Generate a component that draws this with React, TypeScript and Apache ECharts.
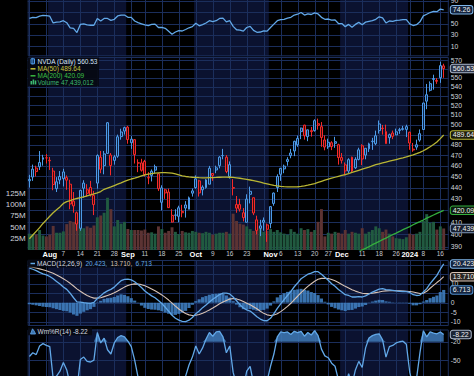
import React, { useEffect, useRef } from 'react';
import * as echarts from 'echarts';

// ---------------- DATA ----------------
const dates = [
  '2023-07-24','2023-07-25','2023-07-26','2023-07-27','2023-07-28','2023-07-31',
  '2023-08-01','2023-08-02','2023-08-03','2023-08-04','2023-08-07','2023-08-08','2023-08-09','2023-08-10','2023-08-11','2023-08-14','2023-08-15','2023-08-16','2023-08-17','2023-08-18','2023-08-21','2023-08-22','2023-08-23','2023-08-24','2023-08-25','2023-08-28','2023-08-29','2023-08-30','2023-08-31',
  '2023-09-01','2023-09-05','2023-09-06','2023-09-07','2023-09-08','2023-09-11','2023-09-12','2023-09-13','2023-09-14','2023-09-15','2023-09-18','2023-09-19','2023-09-20','2023-09-21','2023-09-22','2023-09-25','2023-09-26','2023-09-27','2023-09-28','2023-09-29',
  '2023-10-02','2023-10-03','2023-10-04','2023-10-05','2023-10-06','2023-10-09','2023-10-10','2023-10-11','2023-10-12','2023-10-13','2023-10-16','2023-10-17','2023-10-18','2023-10-19','2023-10-20','2023-10-23','2023-10-24','2023-10-25','2023-10-26','2023-10-27','2023-10-30','2023-10-31',
  '2023-11-01','2023-11-02','2023-11-03','2023-11-06','2023-11-07','2023-11-08','2023-11-09','2023-11-10','2023-11-13','2023-11-14','2023-11-15','2023-11-16','2023-11-17','2023-11-20','2023-11-21','2023-11-22','2023-11-24','2023-11-27','2023-11-28','2023-11-29','2023-11-30',
  '2023-12-01','2023-12-04','2023-12-05','2023-12-06','2023-12-07','2023-12-08','2023-12-11','2023-12-12','2023-12-13','2023-12-14','2023-12-15','2023-12-18','2023-12-19','2023-12-20','2023-12-21','2023-12-22','2023-12-26','2023-12-27','2023-12-28','2023-12-29',
  '2024-01-02','2024-01-03','2024-01-04','2024-01-05','2024-01-08','2024-01-09','2024-01-10','2024-01-11','2024-01-12','2024-01-16','2024-01-17',
];

const priorClose = 443.09;

const opens = [
  447.3, 449.5, 457.8, 463.0, 466.0, 467.4,
  464.6, 455.0, 439.0, 450.0, 448.0, 449.0, 443.0, 428.0, 418.0, 405.0, 444.0, 438.0, 440.0, 425.0, 444.0, 468.0, 460.0, 502.0, 470.0, 465.0, 469.0, 488.0, 497.0,
  497.5, 482.0, 485.0, 462.7, 462.6, 464.0, 449.0, 451.0, 459.0, 452.5, 427.0, 438.0, 436.0, 415.8, 415.9, 415.0, 418.0, 422.0, 421.0, 437.0,
  440.0, 446.0, 438.0, 440.0, 443.0, 451.0, 456.0, 460.0, 469.6, 468.0, 450.0, 440.0, 425.0, 425.0, 418.0, 410.0, 434.0, 431.0, 412.0, 407.0, 410.0, 404.2,
  409.0, 426.0, 440.0, 452.0, 457.0, 464.0, 472.0, 474.0, 480.0, 493.0, 499.5, 488.0, 494.0, 494.0, 501.0, 498.0, 484.7, 478.0, 482.0, 483.0, 480.0,
  465.0, 460.8, 455.0, 468.0, 458.0, 465.9, 479.0, 470.0, 476.0, 483.0, 481.0, 494.0, 496.5, 493.0, 487.0, 491.6, 489.7, 495.0, 496.0, 498.0,
  492.4, 474.9, 477.7, 484.6, 495.1, 524.5, 536.2, 549.2, 546.2, 550.1, 563.5,
];

const highs = [
  451.5, 461.0, 460.0, 473.9, 470.3, 471.0,
  468.2, 458.0, 449.4, 455.0, 457.1, 451.0, 447.0, 436.0, 419.0, 437.9, 446.6, 443.0, 446.0, 437.0, 470.7, 474.0, 474.0, 502.66, 472.0, 470.0, 490.0, 495.9, 498.0,
  498.8, 488.5, 485.5, 466.0, 466.5, 465.5, 454.0, 456.5, 461.0, 453.0, 442.0, 439.0, 439.0, 421.0, 421.0, 424.0, 424.8, 428.0, 432.0, 439.1,
  451.0, 447.0, 442.0, 447.6, 459.8, 453.0, 460.0, 469.0, 476.0, 470.0, 464.0, 447.6, 432.5, 430.0, 422.0, 434.0, 440.8, 431.0, 415.5, 412.0, 414.0, 408.9,
  423.5, 435.6, 452.0, 458.0, 461.0, 468.0, 476.0, 484.0, 489.0, 497.0, 500.0, 495.0, 497.7, 505.5, 506.2, 502.7, 489.2, 486.0, 483.5, 487.8, 481.0,
  472.0, 463.0, 467.0, 468.5, 468.0, 477.1, 480.5, 476.6, 482.0, 486.8, 494.0, 504.3, 499.7, 500.0, 491.0, 494.0, 496.0, 496.8, 498.8, 499.97,
  492.9, 481.8, 485.0, 495.2, 522.75, 543.2, 546.0, 553.5, 549.7, 568.3, 566.0,
];

const lows = [
  440.0, 446.0, 450.0, 456.0, 460.0, 462.0,
  456.0, 437.6, 436.0, 443.0, 441.0, 438.0, 421.0, 418.0, 403.0, 403.0, 431.0, 432.0, 432.0, 416.0, 439.0, 453.0, 452.0, 471.4, 451.0, 461.0, 467.5, 485.0, 490.0,
  481.0, 476.0, 462.0, 454.0, 454.5, 450.0, 443.0, 445.5, 453.0, 437.0, 420.0, 430.0, 422.0, 409.8, 412.0, 410.0, 414.2, 413.9, 421.0, 432.0,
  439.0, 432.0, 433.0, 439.0, 443.0, 446.0, 453.0, 457.5, 466.0, 453.0, 448.0, 433.0, 418.0, 419.0, 410.7, 409.8, 426.0, 416.0, 400.0, 398.6, 403.0, 394.0,
  405.0, 424.0, 436.0, 446.0, 453.0, 460.0, 467.0, 469.0, 478.0, 485.5, 485.0, 483.5, 488.0, 493.0, 495.0, 478.0, 474.6, 476.0, 474.8, 477.0, 461.0,
  462.0, 451.0, 453.0, 454.0, 457.0, 465.0, 460.5, 466.0, 473.0, 475.0, 479.6, 491.0, 490.0, 481.0, 481.0, 485.5, 489.6, 490.8, 494.1, 487.5,
  475.1, 473.2, 475.1, 483.0, 494.8, 516.0, 534.9, 536.9, 543.3, 544.4, 550.0,
];

const closes = [
  446.12, 456.79, 454.52, 459.0, 467.5, 467.29,
  465.07, 442.69, 445.15, 446.8, 454.17, 446.64, 425.54, 423.88, 408.55, 437.53, 439.4, 434.86, 433.44, 432.99, 469.67, 456.68, 471.16, 471.63, 460.18, 468.35, 487.84, 492.64, 493.55,
  485.09, 485.48, 470.61, 462.41, 455.72, 451.78, 448.7, 454.85, 455.81, 439.0, 439.66, 435.2, 422.39, 410.17, 416.1, 422.22, 419.11, 424.68, 430.89, 434.99,
  447.82, 435.17, 440.41, 446.88, 457.62, 452.73, 457.98, 468.06, 469.45, 454.61, 460.95, 439.38, 421.96, 421.01, 413.87, 429.75, 436.63, 417.79, 403.26, 405.0, 411.61, 407.8,
  423.25, 435.06, 450.05, 457.51, 459.55, 465.74, 469.5, 483.35, 486.2, 496.56, 488.88, 494.8, 492.98, 504.09, 499.44, 487.16, 477.76, 482.42, 478.21, 481.4, 467.7,
  467.65, 455.1, 465.66, 455.03, 465.96, 475.06, 466.27, 476.57, 480.88, 483.5, 488.9, 500.77, 496.04, 481.11, 489.9, 488.3, 492.79, 494.17, 495.22, 495.22,
  481.68, 475.69, 479.98, 490.97, 522.53, 531.4, 543.5, 548.22, 547.1, 563.82, 560.53,
];

// volume in millions of shares
const volumesM = [
  36, 35, 34, 44, 32, 30,
  34, 53, 38, 38, 41, 57, 64, 62, 66, 68, 48, 52, 49, 54, 72, 76, 82, 115, 90, 52, 66, 58, 62,
  46, 44, 44, 44, 43, 45, 38, 39, 36, 52, 46, 38, 42, 50, 40, 35, 42, 39, 38, 42,
  40, 38, 37, 40, 38, 34, 36, 38, 38, 40, 36, 80, 64, 58, 56, 52, 46, 42, 52, 48, 40, 42,
  46, 40, 44, 39, 36, 34, 46, 40, 36, 48, 44, 46, 40, 44, 62, 90, 30, 38, 36, 40, 38,
  36, 44, 36, 40, 38, 36, 48, 36, 40, 44, 52, 48, 40, 45, 36, 30, 26, 25, 24, 28,
  36, 34, 36, 40, 64, 79, 60, 62, 45, 52, 47.439012,
];

const ma50 = [
  396.5, 399.5, 402.5, 405.5, 409.0, 412.0,
  415.0, 418.0, 420.5, 423.0, 426.0, 427.5, 428.5, 429.5, 430.3, 431.0, 431.8, 432.6, 433.4, 434.3, 435.3, 436.4, 438.4, 439.5, 440.6, 441.8, 443.0, 444.2, 445.6,
  446.7, 447.7, 448.5, 449.4, 450.6, 451.5, 452.1, 452.6, 453.0, 453.3, 453.5, 453.6, 453.4, 453.0, 452.3, 451.5, 450.6, 450.0, 449.6, 449.3,
  449.1, 448.9, 448.8, 448.8, 448.9, 449.0, 449.1, 449.3, 449.4, 449.4, 449.3, 449.1, 448.8, 448.4, 447.9, 447.4, 446.8, 446.2, 445.5, 444.8, 444.0, 443.3,
  442.6, 442.0, 441.5, 441.1, 440.8, 440.6, 440.5, 440.5, 440.7, 441.0, 441.5, 442.1, 442.8, 443.6, 444.6, 445.6, 446.6, 447.5, 448.4, 449.3, 450.2,
  451.0, 451.8, 452.7, 453.7, 454.7, 455.7, 456.7, 457.7, 458.7, 459.8, 460.9, 461.8, 462.6, 463.4, 464.2, 465.0, 465.8, 466.6, 467.4, 468.3,
  469.3, 470.3, 471.4, 472.6, 474.2, 476.0, 478.0, 480.3, 482.7, 486.0, 489.64,
];

// MA(200) only enters the price panel from early December
const ma200FirstIndex = 92;
const ma200Visible = [
  379.6, 380.8, 382.3, 383.5, 384.8, 386.3, 387.6, 388.8, 390.2, 391.7, 393.0, 394.3, 395.8, 397.0, 398.5, 399.8,
  401.0, 402.4, 403.9, 405.1, 406.4, 407.9, 409.3, 410.5, 411.9, 413.4, 414.7, 416.1, 417.5, 418.7, 420.09,
];

const rsi14 = [
  59, 61, 60.5, 63, 64.5, 64,
  63, 51, 52.5, 53, 55, 51.5, 42.5, 41.5, 34, 48.5, 49.5, 47.5, 47, 47, 59, 54.5, 59, 59, 55.5, 57.5, 63.5, 65, 65,
  61, 61, 54.5, 51.5, 49.5, 47.5, 46.5, 48.5, 49, 43, 43.3, 41.5, 36.5, 31, 35, 37.5, 36.8, 39.5, 42.5, 44.5,
  50.5, 46, 48, 51, 55, 53.5, 55, 59, 59.5, 53, 55, 45, 39, 38.5, 36.5, 43, 45, 38, 34.5, 35, 37, 36.5,
  43, 49, 55, 57, 57.5, 59.5, 61, 65, 66.5, 69.5, 65, 67, 66, 69, 67, 61, 57.5, 58, 56, 56.5, 50,
  50, 44.5, 48.5, 43.5, 48.5, 52, 48, 52.5, 54, 55, 57.5, 62, 60, 51, 54.5, 54, 55.5, 56, 56.8, 57,
  49.5, 46.5, 48, 53, 63.5, 66.5, 69.5, 71.5, 71, 75.5, 74.26,
];

const macdLine = [
  18.2, 17.6, 16.9, 16.0, 15.2, 14.6,
  13.8, 12.6, 11.2, 9.8, 8.3, 7.0, 5.0, 2.6, 0.4, 0.3, 0.0, -0.2, -0.4, 0.2, 2.2, 3.6, 5.2, 6.2, 7.0, 8.2, 10.0, 11.6, 12.3,
  12.4, 12.0, 11.0, 9.6, 8.0, 6.2, 4.8, 3.6, 2.6, 1.2, -0.4, -2.4, -4.4, -6.6, -8.2, -9.2, -9.8, -10.0, -9.2, -7.8,
  -5.8, -4.4, -2.6, -1.2, 0.4, 1.8, 3.0, 4.3, 5.0, 5.0, 4.6, 3.0, 1.0, -1.0, -2.8, -3.8, -4.4, -5.8, -7.4, -8.6, -9.4, -9.5,
  -8.2, -5.8, -3.0, -0.6, 1.6, 3.8, 6.0, 8.4, 10.4, 12.6, 13.8, 15.0, 15.6, 16.4, 16.3, 15.0, 13.4, 11.8, 10.0, 8.6, 7.0,
  5.6, 4.2, 3.8, 3.0, 3.0, 3.2, 3.0, 3.6, 4.6, 5.6, 6.4, 7.1, 7.4, 6.9, 6.8, 6.5, 6.2, 6.0, 5.9, 5.8,
  5.4, 4.2, 3.8, 4.0, 5.6, 7.4, 10.0, 12.2, 14.4, 17.6, 20.423,
];

const macdSignal = [
  19.0, 18.7, 18.3, 17.8, 17.3, 16.8,
  16.2, 15.5, 14.6, 13.7, 12.6, 11.5, 10.2, 8.8, 7.3, 6.0, 4.8, 3.8, 3.0, 2.4, 2.4, 2.6, 3.2, 3.8, 4.4, 5.2, 6.2, 7.2, 8.2,
  9.0, 9.6, 9.9, 9.8, 9.5, 8.9, 8.1, 7.2, 6.3, 5.2, 4.1, 2.8, 1.4, -0.2, -1.8, -3.3, -4.6, -5.7, -6.4, -6.7,
  -6.6, -6.2, -5.5, -4.7, -3.8, -2.8, -1.7, -0.6, 0.4, 1.2, 1.9, 2.2, 2.0, 1.4, 0.6, -0.3, -1.1, -2.1, -3.2, -4.5, -5.6, -6.4,
  -6.7, -6.5, -5.8, -4.7, -3.4, -1.9, -0.3, 1.6, 3.4, 5.3, 7.0, 8.6, 10.0, 11.3, 12.3, 12.8, 12.9, 12.7, 12.2, 11.5, 10.6,
  9.6, 8.6, 7.7, 6.8, 6.1, 5.5, 5.0, 4.8, 4.8, 5.0, 5.3, 5.6, 6.0, 6.2, 6.3, 6.3, 6.3, 6.2, 6.1, 6.0,
  5.9, 5.6, 5.2, 4.8, 5.0, 6.0, 7.6, 9.1, 10.6, 12.0, 13.71,
];

const macdHist = [
  -0.8, -1.1, -1.4, -1.8, -2.1, -2.2,
  -2.4, -2.9, -3.4, -3.9, -4.3, -4.5, -5.2, -6.2, -6.9, -5.7, -4.8, -4.0, -3.4, -2.2, -0.2, 1.0, 2.0, 2.4, 2.6, 3.0, 3.8, 4.4, 4.1,
  3.4, 2.4, 1.1, -0.2, -1.5, -2.7, -3.3, -3.6, -3.7, -4.0, -4.5, -5.2, -5.8, -6.4, -6.4, -5.9, -5.2, -4.3, -2.8, -1.1,
  0.8, 1.8, 2.9, 3.5, 4.2, 4.6, 4.7, 4.9, 4.6, 3.8, 2.7, 0.8, -1.0, -2.4, -3.4, -3.5, -3.3, -3.7, -4.2, -4.1, -3.8, -3.1,
  -1.5, 0.7, 2.8, 4.1, 5.0, 5.7, 6.3, 6.8, 7.0, 7.3, 6.8, 6.4, 5.6, 5.1, 4.0, 2.2, 0.5, -0.9, -2.2, -2.9, -3.6,
  -4.0, -4.4, -3.9, -3.8, -3.1, -2.3, -2.0, -1.2, -0.2, 0.6, 1.1, 1.5, 1.4, 0.7, 0.5, 0.2, -0.1, -0.2, -0.2, -0.2,
  -0.5, -1.4, -1.4, -0.8, 0.6, 1.4, 2.4, 3.1, 3.8, 5.6, 6.713,
];

const williamsR = [
  -44, -38, -41, -27, -23, -26,
  -28, -80, -76, -68, -54, -66, -90, -95, -98, -49, -45, -52, -53, -50, -5, -22, -14, -33, -40, -22, -13, -10, -12,
  -19, -28, -50, -78, -88, -90, -95, -85, -84, -97, -92, -95, -99, -99, -92, -86, -84, -76, -58, -45,
  -27, -40, -30, -16, -5, -11, -4, -3, -12, -38, -27, -70, -90, -92, -96, -68, -60, -88, -98, -94, -88, -84,
  -60, -40, -12, -4, -5, -4, -8, -3, -5, -3, -11, -5, -9, -2, -10, -32, -43, -46, -55, -60, -82,
  -85, -96, -72, -90, -66, -52, -62, -30, -14, -10, -8, -7, -17, -45, -28, -26, -22, -20, -19, -24,
  -70, -92, -80, -38, -2, -12, -4, -6, -7, -4, -8.22,
];

// axis ticks / labels
const priceTicks = [390, 400, 410, 420, 430, 440, 450, 460, 470, 480, 490, 500, 510, 520, 530, 540, 550, 560, 570];
const volumeTicksM = [25, 50, 75, 100, 125];
const rsiTicks = [10, 30, 50, 70, 90];
const macdTicks = [-10, -5, 0, 5, 10, 15, 20];
const wrTicks = [-20, -50, -80];
const dateTickLabels = [
  ['2023-08-01', 'Aug'], ['2023-08-07', '7'], ['2023-08-14', '14'], ['2023-08-21', '21'], ['2023-08-28', '28'],
  ['2023-09-01', 'Sep'], ['2023-09-11', '11'], ['2023-09-18', '18'], ['2023-09-25', '25'],
  ['2023-10-02', 'Oct'], ['2023-10-09', '9'], ['2023-10-16', '16'], ['2023-10-23', '23'],
  ['2023-11-01', 'Nov'], ['2023-11-06', '6'], ['2023-11-13', '13'], ['2023-11-20', '20'], ['2023-11-27', '27'],
  ['2023-12-01', 'Dec'], ['2023-12-11', '11'], ['2023-12-18', '18'], ['2023-12-26', '26'],
  ['2024-01-02', '2024'], ['2024-01-08', '8'], ['2024-01-16', '16'],
];
const boldTickLabels = ['Aug', 'Sep', 'Oct', 'Nov', 'Dec', '2024'];
const shadedMonths = ['2023-08', '2023-10', '2023-12'];

// ---------------- STYLE / LAYOUT ----------------
const FONT = 'Liberation Sans, Arial, sans-serif';
const BAND = '#0b1230';
const GRIDLINE = '#1b2e5c';
const AXIS_TEXT = '#cfd3da';
const UP = '#4d9be8';
const UP_HOLLOW = '#0f2547';
const DOWN = '#f52a2a';
const DOWN_HOLLOW = '#3c0c0c';
const VOL_UP = '#215a40';
const VOL_DOWN = '#5c3333';
const MA50_COLOR = '#b9b634';
const MA200_COLOR = '#34ae3d';
const IND_BLUE = '#62a8e8';
const SIGNAL = '#d8c3b6';
const HIST = '#3f7ec0';

const PLOT_LEFT = 27.7;
const PLOT_RIGHT = 25.2;
const PRICE_MIN = 387.5;
const PRICE_MAX = 573.8;
const VOL_MAX = 425;
const RSI_RANGE = [-8, 100];
const MACD_RANGE = [-12.26, 22.47];
const WR_RANGE = [-100, 0];

const L = (v: number | null) => (v == null ? null : Math.log(v));

function buildOption() {
  const categories = [...dates, ''];
  const labelMap = new Map(dateTickLabels.map(([d, t]) => [d, t]));
  const dow = (d: string) => new Date(d + 'T00:00:00Z').getUTCDay();
  const weekStarts = dates.map((_, i) => i).filter((i) => i === 0 || dow(dates[i]) < dow(dates[i - 1]));
  const bands = shadedMonths.map((m) => {
    const idx = dates.map((d, i) => (d.startsWith(m) ? i : -1)).filter((i) => i >= 0);
    return [idx[0], idx[idx.length - 1]];
  });

  const isUp = (i: number) => closes[i] >= (i === 0 ? priorClose : closes[i - 1]);

  const candleData = dates.map((_, i) => {
    const up = isUp(i);
    const tone = up ? UP : DOWN;
    return {
      value: [L(opens[i]), L(closes[i]), L(lows[i]), L(highs[i])],
      itemStyle: { color: up ? UP_HOLLOW : DOWN_HOLLOW, color0: tone, borderColor: tone, borderColor0: tone, borderWidth: 1 },
    };
  });
  const volumeData = volumesM.map((v, i) => ({ value: v, itemStyle: { color: isUp(i) ? VOL_UP : VOL_DOWN } }));
  const ma200Full = dates.map((_, i) => (i < ma200FirstIndex ? null : L(ma200Visible[i - ma200FirstIndex])));
  const wrFill = williamsR.map((v) => (v > -20 ? v : -20));

  const last = dates.length - 1;
  const lastClose = closes[last];
  const lastMa200 = ma200Visible[ma200Visible.length - 1];
  const lastVol = Math.round(volumesM[last] * 1e6).toLocaleString('en-US');

  const gridDefs = [
    { top: -4.7, height: 61 },
    { top: 57, height: 193 },
    { top: 260, height: 66 },
    { top: 329.5, height: 61.3 },
  ];
  const grids = gridDefs.map((g) => ({ ...g, left: PLOT_LEFT, right: PLOT_RIGHT, containLabel: false, outerBoundsMode: 'none', show: false }));

  // hide a tick label when a value tag of the same panel sits on top of it
  const freeOf = (gi: number, min: number, max: number, tags: number[]) => (v: number) => {
    const k = gridDefs[gi].height / (max - min);
    return tags.every((t) => Math.abs((v - t) * k) > 5);
  };

  const xAxis = [0, 1, 2, 3].map((gi) => ({
    type: 'category',
    gridIndex: gi,
    data: categories,
    boundaryGap: true,
    axisLine: { show: false, onZero: false },
    axisTick: { show: false },
    splitLine: { show: false },
    axisLabel:
      gi === 1
        ? {
            show: true,
            margin: 0,
            interval: (_i: number, v: string) => labelMap.has(v),
            formatter: (v: string) => {
              const t = labelMap.get(v) || '';
              return boldTickLabels.includes(t) ? `{m|${t}}` : `{d|${t}}`;
            },
            rich: {
              m: { fontFamily: FONT, fontWeight: 'bold', fontSize: 7.5, color: '#ffffff' },
              d: { fontFamily: FONT, fontSize: 6.5, color: '#c4c8d0' },
            },
          }
        : { show: false },
  }));

  const plainAxis = (gridIndex: number, min: number, max: number, position: string, extra: any) => ({
    type: 'value',
    gridIndex,
    position,
    min,
    max,
    axisLine: { show: false },
    axisTick: { show: false },
    splitLine: { show: false },
    ...extra,
  });

  const labelAxis = (gridIndex: number, min: number, max: number, position: string, values: number[], fmt: (v: number) => string, fontSize = 6.8) =>
    plainAxis(gridIndex, min, max, position, {
      axisLabel: { customValues: values, formatter: fmt, color: AXIS_TEXT, fontSize, fontFamily: FONT, margin: 2, lineHeight: 7 },
    });

  const tagAxis = (gridIndex: number, min: number, max: number, value: number, text: string, border: string, bg = '#161c2c', color = '#f0f0f0') =>
    plainAxis(gridIndex, min, max, 'right', {
      z: 6,
      axisLabel: {
        customValues: [value],
        formatter: () => text,
        margin: 2,
        color,
        fontSize: 7,
        lineHeight: 7,
        fontFamily: FONT,
        backgroundColor: bg,
        borderColor: border,
        borderWidth: 1,
        borderRadius: 2,
        padding: [0.5, 2, 0, 2],
      },
    });

  const pMin = Math.log(PRICE_MIN);
  const pMax = Math.log(PRICE_MAX);

  const rsiTags = [rsi14[last]];
  const priceTags = [lastClose, ma50[last], lastMa200].map(Math.log);
  const macdTags = [macdLine[last], macdSignal[last], macdHist[last]];
  const wrTags = [williamsR[last]];

  const yAxis = [
    labelAxis(0, RSI_RANGE[0], RSI_RANGE[1], 'right', rsiTicks.filter(freeOf(0, RSI_RANGE[0], RSI_RANGE[1], rsiTags)), (v) => String(v)), // 0
    tagAxis(0, RSI_RANGE[0], RSI_RANGE[1], rsi14[last], rsi14[last].toFixed(2), '#7fb6ea', '#14243e'), // 1
    labelAxis(1, pMin, pMax, 'right', priceTicks.map(Math.log).filter(freeOf(1, pMin, pMax, priceTags)), (v) => String(Math.round(Math.exp(v)))), // 2
    labelAxis(1, 0, VOL_MAX, 'left', volumeTicksM, (v) => `${v}M`, 8), // 3
    tagAxis(1, pMin, pMax, Math.log(lastClose), lastClose.toFixed(2), '#a8b4c8', '#2b3346'), // 4
    tagAxis(1, pMin, pMax, Math.log(ma50[last]), ma50[last].toFixed(2), '#b9b634', '#1e1e0c'), // 5
    tagAxis(1, pMin, pMax, Math.log(lastMa200), lastMa200.toFixed(2), '#34ae3d', '#0c1e0e'), // 6
    tagAxis(1, 0, VOL_MAX, volumesM[last], lastVol, '#7f97b8', '#182030'), // 7
    labelAxis(2, MACD_RANGE[0], MACD_RANGE[1], 'right', macdTicks.filter(freeOf(2, MACD_RANGE[0], MACD_RANGE[1], macdTags)), (v) => String(v)), // 8
    tagAxis(2, MACD_RANGE[0], MACD_RANGE[1], macdLine[last], macdLine[last].toFixed(3), '#7fb6ea', '#14243e'), // 9
    tagAxis(2, MACD_RANGE[0], MACD_RANGE[1], macdSignal[last], macdSignal[last].toFixed(3), '#d8c3b6', '#2a2420'), // 10
    tagAxis(2, MACD_RANGE[0], MACD_RANGE[1], macdHist[last], macdHist[last].toFixed(3), '#4f8ccc', '#14243e'), // 11
    labelAxis(3, WR_RANGE[0], WR_RANGE[1], 'right', wrTicks.filter(freeOf(3, WR_RANGE[0], WR_RANGE[1], wrTags)), (v) => String(v)), // 12
    tagAxis(3, WR_RANGE[0], WR_RANGE[1], williamsR[last], williamsR[last].toFixed(2), '#a8b4c8', '#1c2434'), // 13
  ];

  const background = (gi: number, yi: number, hValues: number[], yRef: number) => ({
    type: 'custom',
    xAxisIndex: gi,
    yAxisIndex: yi,
    silent: true,
    z: 1,
    data: [[0, yRef]],
    encode: { x: 0, y: 1 },
    renderItem: (params: any, api: any) => {
      const cs = params.coordSys;
      const bw = api.size([1, 0])[0];
      const children: any[] = [];
      bands.forEach(([s, e]) => {
        const x0 = api.coord([s, yRef])[0] - bw / 2;
        const x1 = api.coord([e, yRef])[0] + bw / 2;
        children.push({ type: 'rect', shape: { x: x0, y: cs.y, width: x1 - x0, height: cs.height }, style: { fill: BAND } });
      });
      weekStarts.forEach((i) => {
        const x = Math.round(api.coord([i, yRef])[0]) + 0.5;
        children.push({ type: 'line', shape: { x1: x, y1: cs.y, x2: x, y2: cs.y + cs.height }, style: { stroke: GRIDLINE, lineWidth: 1 } });
      });
      hValues.forEach((v) => {
        const y = Math.round(api.coord([0, v])[1]) + 0.5;
        children.push({ type: 'line', shape: { x1: cs.x, y1: y, x2: cs.x + cs.width, y2: y }, style: { stroke: GRIDLINE, lineWidth: 1 } });
      });
      children.push({
        type: 'rect',
        shape: { x: cs.x + 0.5, y: cs.y + 0.5, width: cs.width - 1, height: cs.height - 1 },
        style: { fill: 'none', stroke: GRIDLINE, lineWidth: 1 },
      });
      return { type: 'group', children };
    },
  });

  const line = (xi: number, yi: number, data: any[], color: string, width = 1.2, z = 4) => ({
    type: 'line',
    xAxisIndex: xi,
    yAxisIndex: yi,
    data,
    showSymbol: false,
    symbol: 'none',
    smooth: false,
    silent: true,
    z,
    lineStyle: { color, width },
  });

  const series: any[] = [
    background(0, 0, rsiTicks, 50),
    background(1, 2, priceTicks.map(Math.log), Math.log(480)),
    background(2, 8, macdTicks, 0),
    background(3, 12, wrTicks, -50),
    line(0, 0, rsi14, IND_BLUE, 1.3),
    {
      type: 'bar',
      xAxisIndex: 1,
      yAxisIndex: 3,
      data: volumeData,
      barWidth: '86%',
      silent: true,
      z: 2,
    },
    {
      type: 'candlestick',
      xAxisIndex: 1,
      yAxisIndex: 2,
      data: candleData,
      barWidth: '72%',
      silent: true,
      z: 3,
    },
    line(1, 2, ma50.map(L), MA50_COLOR, 1.3),
    line(1, 2, ma200Full, MA200_COLOR, 1.3),
    {
      type: 'bar',
      xAxisIndex: 2,
      yAxisIndex: 8,
      data: macdHist,
      barWidth: '92%',
      itemStyle: { color: HIST, opacity: 0.9 },
      silent: true,
      z: 2,
    },
    line(2, 8, macdSignal, SIGNAL, 1.1),
    line(2, 8, macdLine, IND_BLUE, 1.3, 5),
    {
      ...line(3, 12, wrFill, 'rgba(0,0,0,0)', 0, 2),
      areaStyle: { color: '#3d76b2', opacity: 0.9, origin: -20 },
    },
    line(3, 12, williamsR, IND_BLUE, 1.3),
  ];

  const txt = (x: number, y: number, text: string, fill: string, extra: any = {}) => ({
    type: 'text',
    x,
    y,
    z: 60,
    style: { text, fill, fontSize: 6.5, fontFamily: FONT, verticalAlign: 'middle', ...extra },
  });

  const graphic = [
    { type: 'rect', z: 55, shape: { x: 28, y: 57.5, width: 71, height: 29 }, style: { fill: 'rgba(6,8,16,0.88)' } },
    { type: 'rect', z: 58, shape: { x: 31, y: 58.8, width: 3.5, height: 5 }, style: { fill: UP_HOLLOW, stroke: UP, lineWidth: 1 } },
    { type: 'line', z: 58, shape: { x1: 32.75, y1: 57.8, x2: 32.75, y2: 64.6 }, style: { stroke: UP, lineWidth: 0.8 } },
    txt(37.5, 61.5, `NVDA (Daily) ${lastClose.toFixed(2)}`, '#d6e4fb'),
    { type: 'line', z: 58, shape: { x1: 30.5, y1: 68.8, x2: 35.5, y2: 68.8 }, style: { stroke: MA50_COLOR, lineWidth: 1.6 } },
    txt(37.5, 68.8, `MA(50) ${ma50[last].toFixed(2)}`, '#c8c640'),
    { type: 'line', z: 58, shape: { x1: 30.5, y1: 75.8, x2: 35.5, y2: 75.8 }, style: { stroke: MA200_COLOR, lineWidth: 1.6 } },
    txt(37.5, 75.8, `MA(200) ${lastMa200.toFixed(2)}`, '#3cc046'),
    { type: 'rect', z: 58, shape: { x: 30.5, y: 81, width: 1.6, height: 3.5 }, style: { fill: '#3cb870' } },
    { type: 'rect', z: 58, shape: { x: 32.6, y: 79.5, width: 1.6, height: 5 }, style: { fill: '#3cb870' } },
    { type: 'rect', z: 58, shape: { x: 34.7, y: 80.5, width: 1.6, height: 4 }, style: { fill: '#3cb870' } },
    txt(37.5, 82.6, `Volume ${lastVol}`, '#3cb870'),

    { type: 'rect', z: 55, shape: { x: 28, y: 259.5, width: 122, height: 8 }, style: { fill: 'rgba(6,8,16,0.88)' } },
    { type: 'line', z: 58, shape: { x1: 30.5, y1: 263.5, x2: 35, y2: 263.5 }, style: { stroke: IND_BLUE, lineWidth: 1.5 } },
    {
      type: 'text',
      x: 37,
      y: 263.5,
      z: 60,
      style: {
        text: `{a|MACD(12,26,9)} {b|${macdLine[last].toFixed(3)},} {c|${macdSignal[last].toFixed(3)},} {b|${macdHist[last].toFixed(3)}}`,
        verticalAlign: 'middle',
        rich: {
          a: { fill: '#d4d8e0', fontSize: 6.5, fontFamily: FONT },
          b: { fill: IND_BLUE, fontSize: 6.5, fontFamily: FONT },
          c: { fill: SIGNAL, fontSize: 6.5, fontFamily: FONT },
        },
      },
    },

    { type: 'rect', z: 55, shape: { x: 28, y: 327.2, width: 64, height: 8 }, style: { fill: 'rgba(6,8,16,0.88)' } },
    { type: 'polygon', z: 58, shape: { points: [[30.5, 334], [32.5, 328.8], [34.5, 331.5], [35.5, 334]] }, style: { fill: '#3d76b2', stroke: IND_BLUE, lineWidth: 0.8 } },
    txt(37.5, 331.2, `Wm%R(14) ${williamsR[last].toFixed(2)}`, '#d4d8e0'),
  ];

  return {
    animation: false,
    backgroundColor: '#000000',
    textStyle: { fontFamily: FONT },
    grid: grids,
    xAxis,
    yAxis,
    series,
    graphic,
  };
}

export default function App() {
  const ref = useRef<HTMLDivElement>(null);
  useEffect(() => {
    if (!ref.current) return;
    const chart = echarts.init(ref.current, null, { renderer: 'svg', width: 474, height: 376 });
    chart.setOption(buildOption() as any);
    return () => chart.dispose();
  }, []);
  return (
    <div
      ref={ref}
      style={{ position: 'absolute', left: 0, top: 0, width: 474, height: 376, background: '#000', overflow: 'hidden' }}
    />
  );
}
